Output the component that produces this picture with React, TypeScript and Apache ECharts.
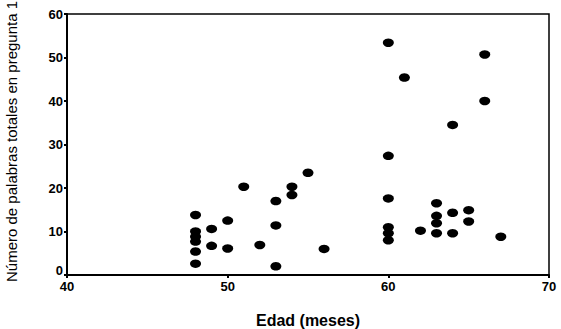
import React, { useEffect, useRef } from "react";
import * as echarts from "echarts";

const edad: number[] = [
  48, 48, 48, 48, 48, 48,
  49, 49, 50, 50, 51, 52,
  53, 53, 53, 54, 54, 55, 56,
  60, 60, 60, 60, 60, 60, 61, 62,
  63, 63, 63, 63, 64, 64, 64,
  65, 65, 66, 66, 67,
];
const palabras: number[] = [
  13.8, 10, 8.8, 7.7, 5.4, 2.6,
  10.6, 6.7, 12.5, 6.1, 20.3, 6.9,
  17, 11.4, 2, 20.3, 18.4, 23.5, 6,
  53.4, 27.4, 17.6, 11, 9.6, 8, 45.4, 10.2,
  16.5, 13.6, 11.9, 9.6, 34.5, 14.3, 9.6,
  14.9, 12.3, 50.7, 40, 8.8,
];
const xTicks = { min: 40, max: 70, interval: 10 };
const yTicks = { min: 0, max: 60, interval: 10 };

export default function App() {
  const ref = useRef<HTMLDivElement>(null);
  useEffect(() => {
    if (!ref.current) return;
    const chart = echarts.init(ref.current, null, { renderer: "svg" });
    const font = "'Liberation Sans', Arial, sans-serif";
    const lbl = { fontFamily: font, fontSize: 13, fontWeight: "bold", color: "#000" };
    chart.setOption({
      animation: false,
      backgroundColor: "#ffffff",
      grid: {
        left: 67,
        top: 14,
        width: 482,
        height: 261,
        containLabel: false,
        outerBoundsMode: "none",
        show: true,
        borderColor: "#000",
        borderWidth: 1.5,
        backgroundColor: "transparent",
      },
      xAxis: {
        type: "value",
        ...xTicks,
        name: "Edad (meses)",
        nameLocation: "middle",
        nameGap: 37,
        nameMoveOverlap: false,
        nameTextStyle: { fontFamily: font, fontSize: 16, fontWeight: "bold", color: "#000" },
        axisLine: { show: true, lineStyle: { color: "#000", width: 2 } },
        axisTick: { show: true, inside: false, length: 3, lineStyle: { color: "#000", width: 2 } },
        axisLabel: { ...lbl, margin: 5 },
        splitLine: { show: false },
      },
      yAxis: {
        type: "value",
        ...yTicks,
        name: "Número de palabras totales en pregunta 1",
        nameLocation: "middle",
        nameGap: 48,
        nameTextStyle: { fontFamily: font, fontSize: 15, color: "#000", padding: [0, 0, 0, 6] },
        axisLine: { show: true, lineStyle: { color: "#000", width: 2 } },
        axisTick: { show: true, inside: false, length: 3, lineStyle: { color: "#000", width: 2 } },
        axisLabel: {
          ...lbl,
          margin: 4,
          formatter: (v: number) => (v === 0 ? "{zero|0}" : String(v)),
          rich: { zero: { ...lbl, padding: [0, 0, 10, 0] } },
        },
        splitLine: { show: false },
      },
      series: [
        {
          type: "scatter",
          data: edad.map((x, i) => [x, palabras[i]]),
          symbol: "circle",
          symbolSize: [11, 8.5],
          itemStyle: { color: "#000", opacity: 1 },
        },
      ],
    });
    return () => chart.dispose();
  }, []);
  return <div ref={ref} style={{ width: 561, height: 329, position: "absolute", left: 0, top: 0 }} />;
}
